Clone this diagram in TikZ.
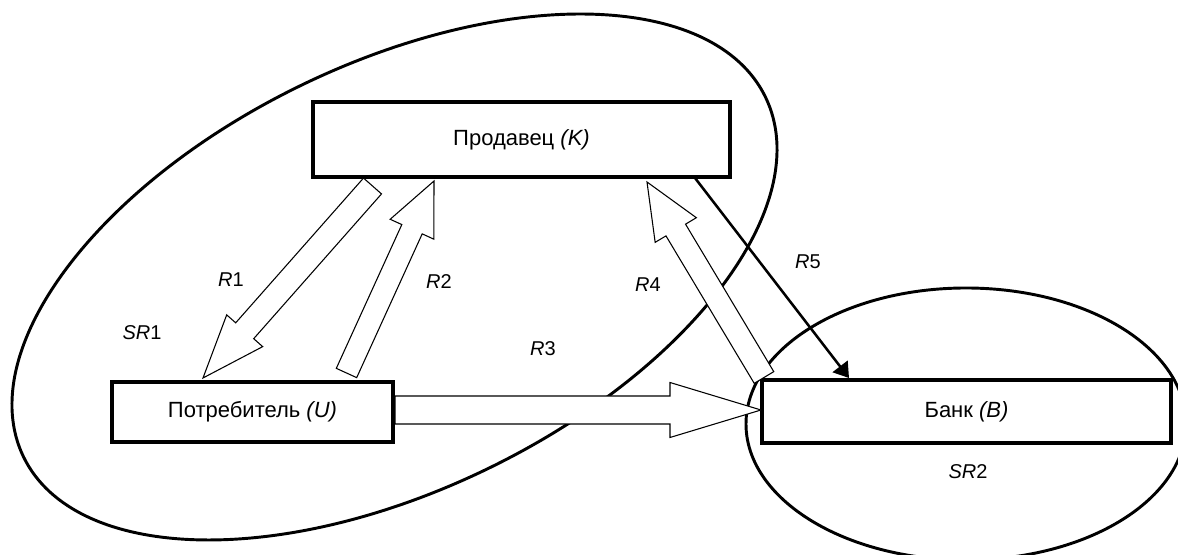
\documentclass[tikz,border=0pt]{standalone}
\usepackage{fontspec}
\setmainfont{Liberation Sans}
\usetikzlibrary{arrows.meta,calc}
\tikzset{
  box/.style={draw, line width=3pt, fill=white, inner sep=0pt, font=\fontsize{16.5}{19}\selectfont},
  lbl/.style={inner sep=0pt, font=\fontsize{15}{18}\selectfont},
  region/.style={draw, line width=2.2pt},
  hollowarrow/.style={draw, fill=white, line width=0.8pt, line join=miter},
  thinarrow/.style={draw, line width=1.9pt, -{Triangle[length=11pt,width=14pt]}}
}
% #1 tail, #2 tip, #3 half shaft width, #4 half head width, #5 head length (pixels)
\newcommand\blockarrow[5]{%
  \path let \p1=(#1), \p2=(#2),
            \n1={atan2(\y2-\y1,\x2-\x1)},
            \n2={veclen(\x2-\x1,\y2-\y1)} in
    \pgfextra{\xdef\baang{\n1}\xdef\balen{\n2}\xdef\bax{\x1}\xdef\bay{\y1}};
  \draw[hollowarrow, shift={(\bax,\bay)}, rotate=\baang]
    (0pt,{-#3*0.75pt}) -- ({\balen-#5*0.75pt},{-#3*0.75pt})
    -- ({\balen-#5*0.75pt},{-#4*0.75pt}) -- ({\balen},0pt)
    -- ({\balen-#5*0.75pt},{#4*0.75pt}) -- ({\balen-#5*0.75pt},{#3*0.75pt})
    -- (0pt,{#3*0.75pt}) -- cycle;
}
\begin{document}
\begin{tikzpicture}[x=0.75pt,y=0.75pt]
\useasboundingbox (0,0) rectangle (1178,555);
% regions
\begin{scope}
\clip (0,0) rectangle (1178,555);
\draw[region] (394.5,278) ellipse [x radius=412.3, y radius=213.2, rotate=25.87];
\draw[region] (966,131) ellipse [x radius=220, y radius=136];
\end{scope}
% boxes
\node[box, minimum width=312.75pt, minimum height=56.25pt] (K) at (521.5,415.5) {Продавец \textit{(K)}};
\node[box, minimum width=210.75pt, minimum height=45pt] (U) at (252.5,143) {Потребитель \textit{(U)}};
\node[box, minimum width=306.75pt, minimum height=47.25pt] (B) at (966.5,143.5) {Банк \textit{(B)}};
% connector ends
\coordinate (r1a) at (372.5,369);
\coordinate (r1b) at (203,177);
\coordinate (r2a) at (346.5,182);
\coordinate (r2b) at (434,374);
\coordinate (r3a) at ($(U.east)+(0,2)$);
\coordinate (r3b) at ($(B.west)+(1,1.5)$);
\coordinate (r4a) at (764,177.5);
\coordinate (r4b) at (647,373);
\coordinate (r5a) at (695,377);
\coordinate (r5b) at (849,177);
% connectors
\blockarrow{r1a}{r1b}{12}{24}{63}
\blockarrow{r2a}{r2b}{11.2}{24}{53}
\blockarrow{r3a}{r3b}{14}{27.5}{91}
\blockarrow{r4a}{r4b}{11.4}{24}{56}
\draw[thinarrow] (r5a) -- (r5b);
% labels
\node[lbl] (lR1) at (231,275) {\textit{R}1};
\node[lbl] (lSR1) at (142,222) {\textit{SR}1};
\node[lbl] (lR2) at (439,273) {\textit{R}2};
\node[lbl] (lR3) at (543,206) {\textit{R}3};
\node[lbl] (lR4) at (648,270) {\textit{R}4};
\node[lbl] (lR5) at (808,293) {\textit{R}5};
\node[lbl] (lSR2) at (968,83.5) {\textit{SR}2};
\end{tikzpicture}
\end{document}
